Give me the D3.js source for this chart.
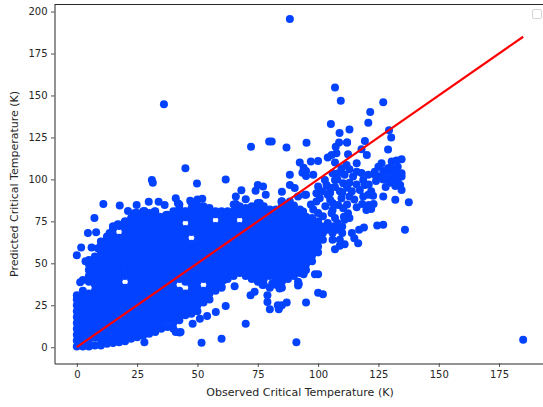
<!DOCTYPE html>
<html>
<head>
<meta charset="utf-8">
<script src="https://cdnjs.cloudflare.com/ajax/libs/d3/7.8.5/d3.min.js"></script>
<style>
body { margin: 0; background: #fff; overflow: hidden; }
svg { display: block; }
text { font-family: "DejaVu Sans", sans-serif; }
</style>
</head>
<body>
<svg width="543" height="407"></svg>
<script>
var xTicks = [0, 25, 50, 75, 100, 125, 150, 175];
var yTicks = [0, 25, 50, 75, 100, 125, 150, 175, 200];
var xLabel = 'Observed Critical Temperature (K)';
var yLabel = 'Predicted Critical Temperature (K)';

// Perfect prediction line
var lineValues = [0, 185];

var observedColumns = [0, 2.5, 5, 7.5, 10, 12.5, 15, 17.5, 20, 22.5, 25, 27.5, 30, 32.5, 35, 37.5, 40,
    42.5, 45, 47.5, 50, 52.5, 55, 57.5, 60, 62.5, 65, 67.5, 70, 72.5, 75, 77.5, 80, 82.5, 85, 87.5, 90, 92.5, 95, 97.5, 100];
var predictedColumns = [
    [.5,4,7.5,11,14.5,18,21.5,25,28.5,31],
    [.5,2.2,5.7,9.2,12.7,16.2,19.7,23.2,26.7,30.2,33.7,40],
    [.5,4,7.5,11,14.5,18,21.5,25,28.5,32,39,42.5,46,49.5,52],
    [1,5.7,9.2,12.7,16.2,19.7,23.2,26.7,30.2,33.7,37.2,40.7,44.2,47.7,51.2,54],
    [1,4,7.5,11,14.5,18,21.5,25,28.5,32,35.5,39,42.5,46,49.5,53,56.5,60,63],
    [2,5.7,9.2,12.7,16.2,19.7,23.2,26.7,30.2,33.7,37.2,40.7,44.2,47.7,51.2,54.7,58.2,61.7,65.2,66],
    [2.5,4,7.5,11,14.5,18,21.5,25,28.5,32,35.5,39,42.5,46,49.5,53,56.5,60,63.5,67,70.5,72],
    [3,5.7,9.2,12.7,16.2,19.7,23.2,26.7,30.2,33.7,37.2,40.7,44.2,47.7,51.2,54.7,58.2,61.7,65.2,72.2,73],
    [3.5,7.5,11,14.5,18,21.5,25,28.5,32,35.5,42.5,46,49.5,53,56.5,60,63.5,67,70.5,74,75],
    [5,9.2,12.7,16.2,19.7,23.2,26.7,30.2,33.7,37.2,40.7,44.2,47.7,51.2,54.7,58.2,61.7,65.2,68.7,72.2,75.7,77],
    [6,7.5,11,14.5,18,21.5,25,28.5,32,35.5,39,42.5,46,49.5,53,56.5,60,63.5,67,70.5,74,77.5,80],
    [7,9.2,12.7,16.2,19.7,23.2,26.7,30.2,33.7,37.2,40.7,44.2,47.7,51.2,54.7,58.2,61.7,65.2,68.7,72.2,75.7,79.2,81],
    [8,11,14.5,18,21.5,25,28.5,32,35.5,39,42.5,46,49.5,53,56.5,60,63.5,67,70.5,74,77.5,80],
    [9,12.7,16.2,19.7,23.2,26.7,30.2,33.7,37.2,40.7,44.2,47.7,51.2,54.7,58.2,61.7,65.2,68.7,72.2,75.7,79.2,81],
    [11,14.5,18,21.5,25,28.5,32,35.5,39,42.5,46,49.5,53,56.5,60,63.5,67,70.5,74,77.5],
    [12,16.2,19.7,23.2,26.7,30.2,33.7,37.2,40.7,44.2,47.7,51.2,54.7,58.2,61.7,65.2,68.7,72.2,75.7,79],
    [11,14.5,18,21.5,25,28.5,32,35.5,39,42.5,46,49.5,53,56.5,60,63.5,67,70.5,74,77.5,81],
    [16,19.7,23.2,26.7,30.2,33.7,40.7,44.2,47.7,51.2,54.7,58.2,61.7,65.2,68.7,72.2,75.7,79.2,82.7,85],
    [19,21.5,25,28.5,32,39,42.5,46,49.5,53,56.5,60,63.5,67,70.5,77.5,81],
    [20,23.2,26.7,30.2,33.7,37.2,40.7,44.2,47.7,51.2,54.7,58.2,61.7,68.7,72.2,75.7,79.2,82.7,86.2],
    [21.5,25,28.5,32,35.5,39,42.5,46,49.5,53,56.5,60,63.5,67,70.5,74,77.5,81,84.5,88],
    [26.7,30.2,33.7,40.7,44.2,47.7,51.2,54.7,58.2,61.7,65.2,68.7,72.2,75.7,79.2,82.7,84],
    [28.5,32,35.5,39,42.5,46,49.5,53,56.5,60,63.5,67,70.5,74,77.5,81,83],
    [33.7,37.2,40.7,44.2,47.7,51.2,54.7,58.2,61.7,65.2,68.7,72.2,79.2,81],
    [35.5,39,42.5,46,49.5,53,56.5,60,63.5,67,70.5,74,77.5,81],
    [40.7,44.2,47.7,51.2,54.7,58.2,61.7,65.2,68.7,72.2,75.7,79.2,81],
    [42.5,46,49.5,53,56.5,60,63.5,67,70.5,74,77.5,81,85],
    [44.2,47.7,51.2,54.7,58.2,61.7,65.2,68.7,72.2,79.2,82.7,84],
    [42.5,46,49.5,53,56.5,60,63.5,67,70.5,74,77.5,81,83],
    [40.7,44.2,47.7,51.2,54.7,58.2,61.7,65.2,68.7,72.2,75.7,79.2,82.7,84],
    [39,42.5,46,49.5,53,56.5,60,63.5,67,70.5,74,77.5,81,84.5,86],
    [37.2,40.7,44.2,47.7,51.2,54.7,58.2,61.7,65.2,68.7,72.2,75.7,79.2,82.7,84],
    [35.5,42.5,46,49.5,53,56.5,60,63.5,67,70.5,74,77.5,81,82],
    [37.2,40.7,44.2,47.7,51.2,54.7,58.2,61.7,65.2,68.7,72.2,75.7,79.2,82],
    [35.5,39,42.5,46,49.5,53,56.5,60,63.5,67,70.5,74,77.5,81,84.5,87],
    [40.7,44.2,47.7,51.2,54.7,58.2,61.7,65.2,68.7,72.2,75.7,79.2,82.7,84],
    [42.5,46,49.5,53,56.5,60,63.5,67,70.5,74,77.5,81,84.5],
    [44.2,47.7,51.2,54.7,58.2,61.7,65.2,68.7,72.2,75.7,79.2,82],
    [46,49.5,53,56.5,60,63.5,67,70.5,74,77.5],
    [51.2,54.7,58.2,61.7,65.2,68.7,72.2,75.7,77],
    [56.5,60,63.5,67,70.5,74]
];

// Points standing clear of the dense part
var scatterObserved = [
    88.3,185,36.1,107,109.4,127,121.6,120.8,105.3,113,108.9,129.4,130.3,119.4,129,120.2,95.2,86.9,80.8,112,108.7,
    72.2,79.7,45,31.1,31.5,61.7,49.8,75,74.1,77.2,68.2,65.9,70,78.3,41,52,47,49.5,29.8,33.9,11,17.8,24.8,36.4,41.9,65.9,75.8,
    7.3,4.6,8,1.8,6.1,0,3.6,6.4,1.4,
    21.2,24,28,32.2,34.3,31.4,37,41.2,45,15,17,19.8,23.2,13.6,10,8.7,
    48,42.6,51.7,60,70,91,95,61.7,65.4,72,73.7,80,83.7,83.3,87,85,79,79,77,84,81,91.7,91.7,76,60,61,57.6,54,51,41,43,28,
    136,127,124.5,119,117,114,115,116.6,111,109,107,98.7,100,92,100,102,94,113,100,
    107.3,112,118,104,105.6,107.6,112.4,100,97,92.4,94,93.5,95,98,107,111.8,116,113,116,118,109.7,108.3,106,107,102.8,103.5,100,99.3,95,100.7,99.3,104,105,
    111,110.4,114.5,118.7,119.4,117.3,120.8,123.5,125.7,125,126.3,123.5,130.5,132.5,134.6,133,131.8,134.6,131,133,134.6,134,134.6,129.8,129,128,127,132,137.6,
    120.8,122.8,118.7,123,121,120,122,118.3,116,113,109.7,108.3,106,105.6,110.4,112.4,110.7,93.8,95,107,105,107,
    88.3,88.3,90.3,95,94.5,91.7,88.3,84.8,85,87,
    104,106,108,110,104,106,108,110,106,109,111,102,102,102,
    109,112,114,116,113,108,105,102,106,110,112,115,103,100,102,98,97,
    127,128,129,130,132,133,130,127,124,121,122
];
var scatterPredicted = [
    195.5,4.5,144.8,154.7,146.8,146,140.2,133.7,133,129.7,127.7,129.3,125,122.8,117.8,114.6,121.8,119,122.5,122,122,
    119.4,122.5,106.7,99.7,98,100,97.5,96.7,93.3,95.7,93.6,89.8,88.2,90.8,88.8,88.4,87.2,86.8,86.6,86.6,85.4,84.4,84.8,84.8,85.8,85.4,86,
    77,68,68.5,59.4,59.4,54.8,51.2,51.6,38.7,
    81.2,79.9,81.2,80.8,77.8,77,78.8,80.8,80.8,71.9,73.3,74.5,76.9,68,62.9,59,
    14,8.7,2.6,5,14,3,26.6,24.6,36.4,31,33,22.6,22.6,25,26.6,25,27,31,37,35,38,39,36.7,39,36,40,21,18.6,17,9,9,3,
    70,73,72.5,71.3,70,68,65,62,61.4,60.5,58.4,43.5,43.5,37.7,32.5,31.6,43.5,77,75,
    119.5,122,118,113,114.6,115.6,115,111,110.6,110,107,104,105,102.7,110,108.6,109.6,106,104.6,103.8,106.7,103.7,103.7,99.7,99.7,96.7,95.7,91.8,90.8,88.8,86.8,90.8,87.8,
    102.7,97.7,101.7,99.7,96.7,93.7,102.7,102.7,101.7,107.6,109.6,104.6,110.6,111.2,112,107.6,104.6,103.7,100.7,99.7,101.7,96.7,93.7,104.6,106.7,95.4,89.8,87.8,86.4,
    90.8,90.3,89.8,85.4,84.8,81.8,82.3,85.4,83.4,89.8,88.8,84.8,81.8,79.8,82.8,79.8,77.8,80.8,77.7,77,95,95.5,
    102.7,96.7,94.8,102,90.8,89.8,86.8,86.8,92.7,82.8,
    74,72,74,72,70,68,70,68,64,64,76,68,72,64,
    93,95,93,97,98,100,92,93,86,92,85,88,84,80,78,82,85,
    105,103,100,98,96,102,107,100,99,97,93
];

var svg = d3.select('svg');
var svgWidth = +svg.attr('width');
var svgHeight = +svg.attr('height');

// The axes run past the right side of the picture, as they do in the reference
var plot = {l: 54.5, r: 545.5, t: 4.5, b: 363.5};

var xScale = d3.scaleLinear().domain([-9.25, 194.25]).range([plot.l, plot.r]);
var yScale = d3.scaleLinear().domain([-9.7, 204.2]).range([plot.b, plot.t]);

// Flatten the columns and add the loose points
var points = [];
observedColumns.forEach(function(x, i) {
    predictedColumns[i].forEach(function(y) {
        points.push({x: x, y: y});
    });
});
scatterObserved.forEach(function(x, i) {
    points.push({x: x, y: scatterPredicted[i]});
});

svg.append('g')
    .selectAll('circle')
    .data(points)
    .enter()
    .append('circle')
    .attr('cx', function(d) { return xScale(d.x); })
    .attr('cy', function(d) { return yScale(d.y); })
    .attr('r', 4)
    .attr('fill', '#0343ff');

var line = d3.line()
    .x(function(d) { return xScale(d); })
    .y(function(d) { return yScale(d); });

svg.append('path')
    .datum(lineValues)
    .attr('d', line)
    .attr('fill', 'none')
    .attr('stroke', '#ff0000')
    .attr('stroke-width', 2.2);

// Axes
var xAxis = svg.append('g')
    .attr('transform', 'translate(0,' + plot.b + ')')
    .call(d3.axisBottom(xScale).tickValues(xTicks).tickSizeInner(3.5).tickSizeOuter(0).tickPadding(3.5));
var yAxis = svg.append('g')
    .attr('transform', 'translate(' + plot.l + ',0)')
    .call(d3.axisLeft(yScale).tickValues(yTicks).tickSizeInner(3.5).tickSizeOuter(0).tickPadding(3.5));

[xAxis, yAxis].forEach(function(axis) {
    axis.selectAll('text').attr('fill', '#262626').style('font-size', '10px').style('font-family', '"DejaVu Sans", sans-serif');
    axis.selectAll('line').attr('stroke', '#262626').attr('stroke-width', 0.8);
    axis.select('.domain').attr('stroke', '#262626').attr('stroke-width', 1);
});

// Top spine
svg.append('line')
    .attr('x1', plot.l).attr('x2', svgWidth)
    .attr('y1', plot.t).attr('y2', plot.t)
    .attr('stroke', '#262626')
    .attr('stroke-width', 1);

svg.append('text')
    .attr('x', xScale(92.5))
    .attr('y', 395.5)
    .attr('text-anchor', 'middle')
    .attr('fill', '#262626')
    .style('font-size', '11px')
    .text(xLabel);

svg.append('text')
    .attr('transform', 'translate(18,' + (plot.t + plot.b) / 2 + ') rotate(-90)')
    .attr('text-anchor', 'middle')
    .attr('fill', '#262626')
    .style('font-size', '11px')
    .text(yLabel);

// Empty legend box
svg.append('rect')
    .attr('x', 532.5)
    .attr('y', 9.5)
    .attr('width', 9)
    .attr('height', 9)
    .attr('rx', 1.5)
    .attr('fill', '#fff')
    .attr('stroke', '#d6d6d6')
    .attr('stroke-width', 1);
</script>
</body>
</html>
